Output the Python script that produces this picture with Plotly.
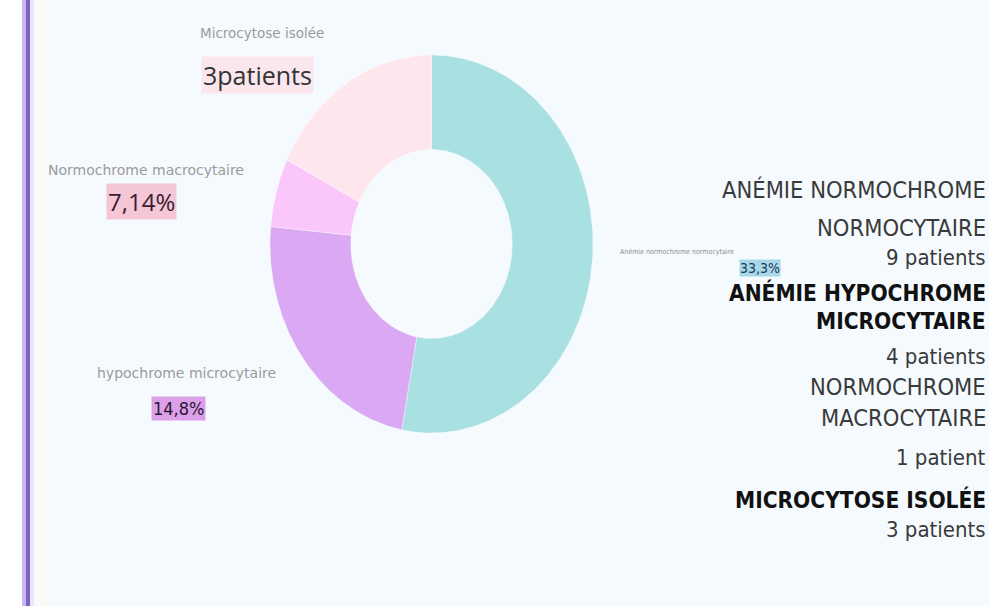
import numpy as np
import plotly.graph_objects as go

# ---------------- data ----------------
categories = ["Anémie normochrome normocytaire", "hypochrome microcytaire",
              "Normochrome macrocytaire", "Microcytose isolée"]
patients = [9, 4, 1, 3]
slice_colors = ["#a9e0e1", "#dba9f3", "#fbc7fa", "#fde6ec"]

# callout labels as printed on the original chart
callout_values = ["33,3%", "14,8%", "7,14%", "3patients"]

# right-hand text block
side_lines = ["ANÉMIE NORMOCHROME", "NORMOCYTAIRE", "9 patients",
              "ANÉMIE HYPOCHROME", "MICROCYTAIRE", "4 patients",
              "NORMOCHROME", "MACROCYTAIRE", "1 patient",
              "MICROCYTOSE ISOLÉE", "3 patients"]
side_bold = [False, False, False, True, True, False, False, False, False, True, False]

# ---------------- layout constants ----------------
W, H = 989, 606
BG = "#f5fafe"
HOLE = 0.5
COND = "DejaVu Sans Condensed, Liberation Sans Narrow, sans-serif"
NARROW = "Liberation Sans Narrow, DejaVu Sans Condensed, sans-serif"


def px(x):
    return x / W


def py(y):
    return 1 - y / H


fig = go.Figure()

# donut slices drawn in a unit-circle data space; the axes stretch it to the ellipse
total = sum(patients)
start = 0.0
for cat, val, col in zip(categories, patients, slice_colors):
    end = start + val / total * 2 * np.pi
    t = np.linspace(start, end, 200)
    xo, yo = np.sin(t), np.cos(t)
    xi, yi = HOLE * np.sin(t[::-1]), HOLE * np.cos(t[::-1])
    xs = np.concatenate([xo, xi, xo[:1]])
    ys = np.concatenate([yo, yi, yo[:1]])
    fig.add_trace(go.Scatter(x=xs, y=ys, fill="toself", fillcolor=col, mode="lines",
                             line=dict(color="rgba(255,255,255,0.6)", width=0.6),
                             name=cat, hoverinfo="name", showlegend=False))
    start = end

# ---------------- annotations ----------------
ann = []


def note(text, x, y, size, color, family, xanchor="center", **kw):
    ann.append(dict(text=text, x=px(x), y=py(y), xref="paper", yref="paper",
                    xanchor=xanchor, yanchor="middle", showarrow=False,
                    font=dict(family=family, size=size, color=color), **kw))


# small grey category labels
note(categories[0], 677, 252, 7, "#8f8f8f", NARROW)
note(categories[1], 186, 373, 14, "#9b9b9b", "DejaVu Sans, sans-serif")
note(categories[2], 146, 170, 14, "#9b9b9b", "DejaVu Sans, sans-serif")
note(categories[3], 262, 33, 13.5, "#9b9b9b", "DejaVu Sans, sans-serif")

# highlighted values
note(callout_values[0], 760, 268, 14, "#1d3a55", COND, bgcolor="#a8d7ea", borderpad=0)
note(callout_values[1], 178, 408, 18, "#2a1530", COND, bgcolor="#dba0e8", borderpad=1)
note(callout_values[2], 141, 201, 24, "#3a2030", "Open Sans, sans-serif",
     bgcolor="#f5c6d6", borderpad=1)
note(callout_values[3], 257, 75, 25, "#333333", "Open Sans, sans-serif",
     bgcolor="#fbe6ee", borderpad=1)

# right-hand text block
side_y = [190, 228, 258, 292, 321, 356, 387, 418, 457, 499, 529]
for txt, y, b in zip(side_lines, side_y, side_bold):
    if b:
        note(f"<b>{txt}</b>", 988, y, 22.5, "#111111", COND, xanchor="right")
    else:
        note(txt, 988, y, 23.5 if not txt[0].isdigit() else 22, "#3a3a3a", COND,
             xanchor="right")

# ---------------- left border decoration ----------------
shapes = [
    dict(type="rect", xref="paper", yref="paper", x0=0, x1=px(22), y0=0, y1=1,
         fillcolor="white", line_width=0, layer="below"),
    dict(type="rect", xref="paper", yref="paper", x0=px(22), x1=px(26), y0=0, y1=1,
         fillcolor="#cdb6f0", line_width=0, layer="below"),
    dict(type="rect", xref="paper", yref="paper", x0=px(26), x1=px(30), y0=0, y1=1,
         fillcolor="#7a63c6", line_width=0, layer="below"),
    dict(type="rect", xref="paper", yref="paper", x0=px(30), x1=px(34), y0=0, y1=1,
         fillcolor="#efe3fb", line_width=0, layer="below"),
    dict(type="rect", xref="paper", yref="paper", x0=px(34), x1=px(50), y0=0, y1=1,
         fillcolor="#f8fbf5", line_width=0, layer="below"),
]

fig.update_layout(
    width=W, height=H, margin=dict(l=0, r=0, t=0, b=0),
    paper_bgcolor=BG, plot_bgcolor="rgba(0,0,0,0)",
    xaxis=dict(domain=[px(270), px(593)], range=[-1, 1], visible=False, fixedrange=True),
    yaxis=dict(domain=[py(433), py(55)], range=[-1, 1], visible=False, fixedrange=True),
    annotations=ann, shapes=shapes, showlegend=False,
)

fig.write_html("out.html")
